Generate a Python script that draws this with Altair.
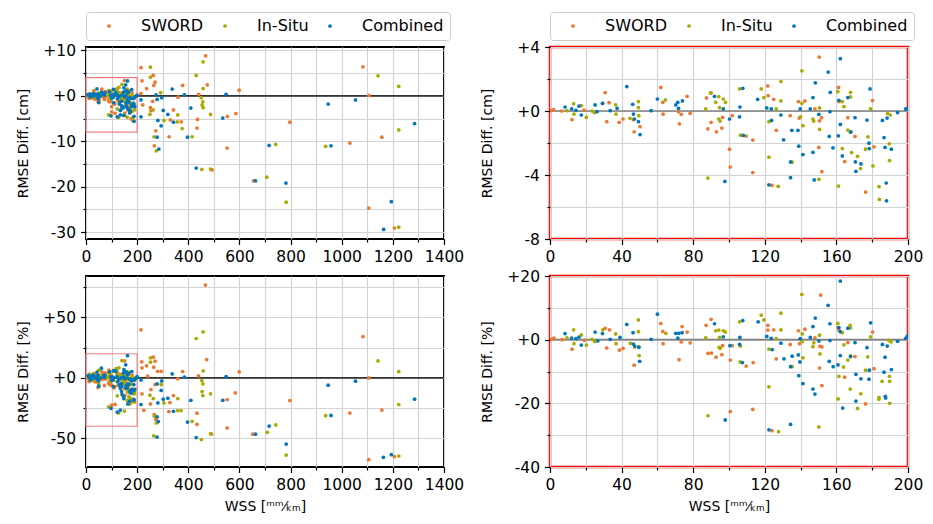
import altair as alt
import numpy as np
import pandas as pd

SERIES = ["SWORD", "In-Situ", "Combined"]
COLORS = ["#EE7733", "#AAAA00", "#0077BB"]

FULL_WSS = [0, 1400]
FULL_CM = [-31.5, 10.75]
FULL_PCT = [-73.7, 84.3]
ZOOM_WSS = [0, 200]
ZOOM_CM = [-8, 4]
ZOOM_PCT = [-40, 20]

# ---- SWORD ----
SWORD_ZOOM_CM = [(1, 0.04), (2, 0.08), (6.5, 0), (12.3, -0.54), (19, 0.06), (30.8, 1.15), (31.7, -0.67), (33, 0.52),
                 (38.6, -0.71), (40.8, -0.5), (47, -1.3), (46.6, -0.54), (50.3, -0.98), (61.9, 1.47), (63, 0.54),
                 (63.2, -0.2), (71.8, -0.04), (72.3, -0.8), (73.3, -0.21), (76.6, 0.92), (78.3, -0.15), (87.4, 0.82),
                 (88.2, -1.11), (90, 1.13), (90, -0.71), (93, -1.3), (96, -1.07), (96.4, -0.4), (100.3, -2.39),
                 (100.7, -3.5), (101.8, -0.29), (109.6, -1.57), (113.3, -1.82), (113.3, -3.85), (121.7, 1.57),
                 (121.9, 0.96), (124, -4.65), (125, 0.73), (126.4, -1.21), (134.2, -0.29), (138.8, 0.59),
                 (139.2, -0.44), (142.4, 0.63), (148, 0.13), (150.4, 3.37), (150.6, -0.61), (150.2, -2.28),
                 (151.7, -0.42), (151.9, -3.79), (161.2, 1.47), (161.4, 0.59), (166.4, -0.42), (164.6, -3.16),
                 (170.4, -1.59), (176.3, -5.07), (180.2, 0.65), (181, -2.24)]
SWORD_ZOOM_PCT = [(1, 0.1), (2.2, 0.5), (6.7, 0), (12.3, -3.0), (19.2, -0.2), (30.8, 3.55), (31.7, -2.6), (33.2, 3.1),
                  (38.8, -3.3), (40.8, -2.7), (47, -8.0), (47.3, -2.3), (61.9, 5.1), (63, 2.6), (63.2, -1.25),
                  (72.1, -6.3), (73.3, -0.7), (73.8, 4.1), (76.6, 2.4), (78.3, -1.0), (87.2, 4.5), (88.3, -4.3),
                  (90, 6.4), (90.2, -4.2), (92.8, -5.5), (96, -4.7), (96.4, -1.9), (100.7, -6.4), (100.7, -22.6),
                  (101.8, -1.9), (109.6, -8.3), (113.5, -7.2), (113.3, -21.9), (121.7, 4.5), (121.7, 3.0),
                  (124, -28.6), (125, 3.1), (126.4, -6.0), (134.2, -1.5), (138.8, 2.8), (139.4, -1.25), (142.4, 3.3),
                  (148, 0.6), (151.2, 14.0), (150.6, -8.9), (150.8, -2.1), (151.9, -2.3), (151.9, -14.4), (161, 3.8),
                  (161.4, 3.0), (164.6, -11.8), (166.4, -0.9), (170.4, -5.3), (176.3, -20.2), (180.2, 2.4),
                  (181, -9.1)]
SWORD_WIDE_CM = [(215, 6.2), (263, 4.5), (219, 3.3), (270, 3.0), (265, 2.3), (237, 1.6), (378, 2.3), (468, 8.8),
                 (474, 2.4), (360, -0.3), (441, 0.35), (261, -1.2), (222, -2.0), (252, -2.6), (254, -3.3),
                 (342, -3.1), (330, -5.3), (372, -5.7), (273, -7.7), (325, -9.0), (267, -11.0), (436, -5.2),
                 (434, -7.1), (553, -4.5), (586, -3.9), (599, 1.25), (552, -11.5), (797, -5.8), (215, 0.5),
                 (655, -18.7), (1032, -10.4), (1083, 6.4), (1106, 0.1), (1106, -24.7), (1157, -9.1), (1206, -29.1),
                 (493, -16.3)]
SWORD_WIDE_PCT = [(467, 76.8), (215, 39.8), (472, 15.2), (378, 5.3), (599, 5.0), (218, 13.3), (219, 8.3), (237, 10),
                  (263, 17.1), (270, 13.8), (265, 8.9), (280, 5.5), (294, 5.5), (241, 1.4), (440, 1.7), (359, -0.8),
                  (254, -9.6), (219, -13.2), (270, -5.5), (342, -14.6), (252, -21.5), (328, -20.4), (324, -27.8),
                  (434, -29.2), (434, -38.4), (552, -17.9), (552, -41.4), (584, -12.4), (797, -18.7), (267, -30.3),
                  (273, -34.5), (652, -46.6), (226, -26.8), (1032, -29.1), (1083, 34.1), (1106, 0), (1106, -67.6),
                  (1157, -26.6), (1206, -65.1), (491, -46.5)]

# ---- In-Situ ----
INSITU_ZOOM_CM = [(9.5, 0.02), (13.2, 0.46), (13.4, -0.19), (17.5, 0.34), (20.3, -0.4), (23.5, 0), (24.8, -0.1),
                  (29.5, 0.48), (36.7, 0.38), (36.9, -0.19), (44.7, -0.46), (49.4, 0.59), (49.4, 0.21), (49.6, -0.29),
                  (64.5, 0.69), (87, 0.13), (88.2, -4.19), (89.7, 1.13), (92.6, 0.54), (94.3, 0.9), (94.3, -0.5),
                  (95, -0.63), (94.7, 0.21), (96.8, 0.75), (98, 0.54), (105.9, 1.38), (106.4, -1.51), (118, 1.38),
                  (119.5, 0.84), (122.3, -0.67), (122.3, -2.89), (126.4, 0.13), (127.5, -4.71), (129, 1.84),
                  (129, 0.63), (135.3, -3.2), (140, -0.36), (140.7, 2.51), (140.7, 0.48), (141.3, -0.92),
                  (146.9, -0.5), (147.3, -0.63), (150.2, -4.27), (150.6, 0.19), (150.6, -1.15), (160.8, 1.21),
                  (161.2, -4.69), (163.3, 0.59), (163.3, -2.35), (164.2, 0.27), (166.4, -1.19), (167.9, 1.17),
                  (167.9, 0.88), (167.8, -1.34), (168.5, -2.6), (171.8, -2.83), (173.5, -3.6), (176.3, -2.39),
                  (177.6, -1.61), (179.1, 0.13), (180.4, -3.43), (183.8, -4.73), (184, -5.53), (188.6, -0.15),
                  (189.5, -2.05), (189.7, -3.1), (190.1, -0.25)]
INSITU_ZOOM_PCT = [(9.5, 0.6), (13.2, 3.1), (13.4, -1.25), (17.5, 1.5), (20.3, -1.7), (23.5, 0.1), (25, -0.6),
                   (29.5, 3.1), (36.7, 1.8), (36.9, -1.25), (44.9, -1.15), (49.4, 6.2), (49.4, 2.5), (49.6, -2.2),
                   (49.8, -5.0), (64.7, 2.0), (87, 0.6), (88.2, -23.9), (92.6, 2.8), (94.3, 3.0), (94.5, -2.4),
                   (95, -2.7), (94.7, 0.7), (96.8, 2.8), (98, 2.4), (105.9, 5.6), (106.4, -2.0), (106.2, -7.0),
                   (118, 7.7), (119.5, 6.2), (122.3, -3.0), (122.3, -14.8), (126.4, 0.3), (127.7, -28.9), (129, 8.3),
                   (129, 3.1), (135.3, -8.5), (140, 0.2), (140.7, 14.2), (140.9, 1.8), (141.3, -5.7), (140.9, -0.6),
                   (146.9, -2.2), (147.4, -1.0), (150.2, -27.4), (150.6, 1.4), (150.8, -4.5), (160.8, 5.1),
                   (161, -18.6), (161.4, -11.5), (163.3, 2.2), (164, -8.6), (164.2, -1.6), (166.4, -6.4),
                   (167.7, 4.5), (167.9, 3.7), (167.9, -5.1), (167.7, -15.5), (171.8, -21.6), (173.6, -17.0),
                   (176.3, -9.6), (177.5, -5.4), (179.1, 0.9), (183.8, -18.1), (183.8, -18.7), (185.5, -13.1),
                   (189.2, -0.2), (189.6, -11.5), (189.8, -13.1), (189.8, -20.0), (190.5, -0.7)]
INSITU_WIDE_CM = [(252, 6.3), (252, 4.1), (431, 4.5), (458, 7.5), (458, 1.6), (451, -0.4), (457, -1.3), (454, -2.0),
                  (458, -2.6), (292, 0.7), (263, -3.1), (250, -4.1), (359, -4.2), (305, -5.4), (357, -5.7),
                  (376, -7.2), (266, -9.0), (275, -12.1), (415, -9.0), (487, -4.1), (742, -10.7), (707, -17.9),
                  (783, -23.4), (937, -11.1), (1142, 4.4), (1223, 2.1), (1223, -7.5), (1223, -28.9), (453, -16.2),
                  (487, -16.1)]
INSITU_WIDE_PCT = [(458, 38.1), (431, 32.6), (458, 5.8), (252, 16.6), (252, 13), (453, -2.2), (457, -5),
                   (454, -11.3), (457, -14.6), (487, -13.2), (294, -5.5), (250, -14.3), (263, -17.1), (359, -17.1),
                   (359, -27), (372, -27), (305, -20.7), (267, -31.7), (275, -37.3), (415, -35.9), (265, -48),
                   (487, -46.1), (451, -51), (742, -38.9), (709, -45), (783, -63.8), (937, -31.3), (1142, 14),
                   (1223, 5.2), (1223, -22), (1223, -64.6)]

# ---- Combined ----
COMB_ZOOM_CM = [(8.4, 0.25), (12.1, 0.13), (14.5, 0.04), (16.2, 0.31), (17.5, -0.25), (25.2, 0.38), (26.3, -0.04),
                (29.3, 0.48), (33.6, 0.02), (37.5, 0.17), (42.9, 1.53), (46.2, 0.42), (46.6, -0.19), (47.2, -0.5),
                (49.4, -0.67), (50.3, -1.47), (56.5, 0.02), (60, 0.75), (70.3, 0.38), (71.4, 0.54), (71.8, 0.17),
                (74, 0.63), (91.9, 0.92), (96.8, 0.13), (97.7, -4.4), (100.3, -0.5), (105.9, -0.36), (106.1, 0.25),
                (107.7, 1.42), (108, -1.53), (116, 0.73), (121.1, 0.19), (122.3, -4.61), (123.6, 0.13),
                (123.8, -0.59), (129, -0.25), (130.5, -1.8), (134.4, -3.18), (134.4, -4.17), (135.1, -1.21),
                (138.5, -1.21), (139, -2.2), (139.8, 0.13), (141.3, -2.72), (145.4, 0.13), (146.9, 0.84),
                (146.9, -2.58), (148.2, 1.76), (147.6, -4.31), (150.2, -0.21), (155.4, 2.43), (156, -1.59),
                (156.6, 1.17), (156.4, -0.04), (158.1, -2.3), (161.1, -1.55), (161.4, 0.67), (162.2, 3.27),
                (162.2, -0.84), (163.3, -2.81), (166.4, 0.84), (168.1, -1.3), (170.4, -0.42), (170.6, -3.18),
                (170.9, -3.77), (173.7, -3.31), (177.1, -0.57), (178.2, -2.01), (178.8, 1.38), (178.4, -2.35),
                (185.7, -0.59), (186.6, -1.66), (187.2, -2.28), (187.8, -4.5), (188, -5.61), (188.3, -0.44),
                (190.7, -2.39), (194.2, -0.1), (198.7, 0.13), (199.6, 0.13)]
COMB_ZOOM_PCT = [(8.4, 1.9), (12.1, 0.5), (14.5, 0.3), (16.2, 0.8), (17.5, -1.7), (25.2, 2.4), (26.7, -0.4),
                 (29.3, 1.9), (33.6, 0.1), (39.1, 0.7), (42.9, 4.8), (46.4, 2.2), (46.6, -1.4), (47.3, -2.0),
                 (49.6, -2.4), (50.1, -6.8), (56.5, 0.1), (60, 8.0), (70.3, 2.0), (71.4, 0.5), (72, 2.0), (73.8, 2.2),
                 (91.9, 5.0), (96.8, 0.9), (97.9, -25.2), (100.5, -1.9), (105.9, -1.5), (106.1, 0.7), (107.7, 6.0),
                 (107.5, -7.2), (116.3, 5.6), (121.1, 1.0), (122.3, -28.3), (123.6, 0.4), (124.1, -3.1),
                 (129, -1.1), (130.7, -6.0), (134.4, -8.5), (134.4, -26.6), (135.3, -5.2), (138.7, -4.8),
                 (139, -11.3), (139.6, -7.0), (139.8, 0.3), (141.3, -13.8), (145.4, 0.7), (146.9, 4.1),
                 (146.9, -15.5), (148, -17.1), (148.2, 6.8), (150.2, -0.4), (155.4, 10.8), (156, -6.8), (156.4, 5.0),
                 (156.4, -0.3), (158.2, -8.5), (160.9, -7.9), (161.4, 3.8), (162.2, 18.4), (162.2, -5.0),
                 (162.2, 2.5), (163.5, -21.5), (166.4, 3.6), (167.9, -5.3), (170.4, -0.9), (170.9, -10.9),
                 (170.9, -19.3), (173.7, -12.3), (177.1, -2.5), (178.2, -12.4), (179.1, 5.3), (178.4, -9.6),
                 (185.7, -1.5), (186.6, -10.2), (187.2, -5.5), (187.3, -17.8), (187.5, -18.3), (188.4, -2.0),
                 (190.7, -9.4), (194.2, -0.5), (198.7, 0.4), (199.6, 1.1)]
COMB_WIDE_CM = [(337, 1.5), (385, 0.2), (548, 0.35), (278, -0.8), (296, -0.4), (274, 0.2), (302, -3.2), (320, -4.1),
                (342, -5.8), (281, -5.4), (294, -6.6), (278, -9.1), (285, -11.7), (410, -2.7), (397, -9.1),
                (535, -4.9), (716, -10.9), (215, -0.9), (215, -4.6), (431, -15.9), (663, -18.7), (782, -19.2),
                (947, -1.8), (958, -11.0), (1054, -0.9), (1164, -29.4), (1194, -23.3), (1285, -6.1)]
COMB_WIDE_PCT = [(337, 3.3), (385, 0.6), (548, 1.1), (296, -2.5), (278, -5), (294, -10.4), (302, -17.6),
                 (320, -16.8), (342, -27.6), (281, -20.7), (278, -32.3), (283, -36.1), (278, -48.9), (410, -18.5),
                 (397, -36.5), (535, -18.5), (716, -39.8), (431, -49.4), (663, -46.6), (783, -54.7), (215, -1.8),
                 (215, -22), (947, -6), (958, -31), (1054, -2.7), (1163, -65.7), (1194, -63.5), (1285, -17.6)]


def frame(groups):
    rows = []
    for name, pairs in groups:
        for x, y in pairs:
            rows.append({"series": name, "wss": x, "diff": y})
    return pd.DataFrame(rows)


zoom_cm = frame([("SWORD", SWORD_ZOOM_CM), ("In-Situ", INSITU_ZOOM_CM), ("Combined", COMB_ZOOM_CM)])
zoom_pct = frame([("SWORD", SWORD_ZOOM_PCT), ("In-Situ", INSITU_ZOOM_PCT), ("Combined", COMB_ZOOM_PCT)])
full_cm = frame([("SWORD", SWORD_ZOOM_CM + SWORD_WIDE_CM), ("In-Situ", INSITU_ZOOM_CM + INSITU_WIDE_CM),
                 ("Combined", COMB_ZOOM_CM + COMB_WIDE_CM)])
full_pct = frame([("SWORD", SWORD_ZOOM_PCT + SWORD_WIDE_PCT), ("In-Situ", INSITU_ZOOM_PCT + INSITU_WIDE_PCT),
                  ("Combined", COMB_ZOOM_PCT + COMB_WIDE_PCT)])

FONT = "DejaVu Sans"
X_TITLE = "WSS [ᵐᵐ⁄ₖₘ]"


def ticks(dom, step):
    start = np.ceil(dom[0] / step) * step
    return [float(v) for v in np.arange(start, dom[1] + 1e-9, step)]


def sign_expr(major):
    return (f"datum.value % {major} == 0 ? (datum.value > 0 ? '+' + datum.value : "
            f"(datum.value == 0 ? '+0' : '-' + abs(datum.value))) : ''")


def axis_common(major):
    return dict(
        domain=False,
        tickColor="black",
        tickWidth=1.2,
        tickSize={"condition": {"test": f"datum.value % {major} != 0", "value": 3}, "value": 5.5},
        labelFontSize=15.5,
        labelFont=FONT,
        labelColor="black",
        labelPadding=5,
        labelOverlap=False,
        labelFlush=False,
        gridColor="#d3d3d3",
        gridWidth=1.2,
        titleFont=FONT,
        titleFontSize=14,
        titleFontWeight="normal",
        titleColor="black",
    )


def panel(df, xdom, xminor, xmajor, ydom, yminor, ymajor, ytitle, xtitle, legend, zero_color, border,
          border_width, box=None, ytitle_pad=12, height=192):
    xscale = alt.Scale(domain=xdom, nice=False, zero=False)
    yscale = alt.Scale(domain=ydom, nice=False, zero=False)
    xaxis_kw = axis_common(xmajor)
    xaxis_kw.update(values=ticks(xdom, xminor), format="d",
                    labelExpr=f"datum.value % {xmajor} == 0 ? datum.label : ''",
                    titlePadding=6, title=xtitle)
    yaxis_kw = axis_common(ymajor)
    yaxis_kw.update(values=ticks(ydom, yminor), labelExpr=sign_expr(ymajor), title=ytitle,
                    titlePadding=ytitle_pad)
    xaxis = alt.Axis(**xaxis_kw)
    yaxis = alt.Axis(**yaxis_kw)

    color_kw = dict(scale=alt.Scale(domain=SERIES, range=COLORS), sort=SERIES)
    if legend:
        color_kw["legend"] = alt.Legend(
            title=None, orient="none", legendX=0, legendY=-35, direction="horizontal", columns=3,
            padding=6, symbolOffset=9, labelOffset=24, columnPadding=4,
            fillColor="white", strokeColor="#cccccc", cornerRadius=3,
            labelFontSize=16, labelFont=FONT, labelColor="black",
            symbolType="circle", symbolSize=14, symbolStrokeWidth=0,
        )
    else:
        color_kw["legend"] = None

    zero = alt.Chart(pd.DataFrame({"y": [0]})).mark_rule(color=zero_color, strokeWidth=1.6).encode(
        y=alt.Y("y:Q", scale=yscale, axis=yaxis)
    )
    pts = alt.Chart(df).mark_circle(size=14, opacity=1, clip=True).encode(
        x=alt.X("wss:Q", scale=xscale, axis=xaxis),
        y=alt.Y("diff:Q", scale=yscale, axis=yaxis),
        color=alt.Color("series:N", **color_kw),
    )
    layers = [zero]
    if box is not None:
        bx, by = box
        rect_df = pd.DataFrame({"x": [bx[0]], "x2": [bx[1]], "y": [by[0]], "y2": [by[1]]})
        rect = alt.Chart(rect_df).mark_rect(fillOpacity=0, stroke="#f08080", strokeWidth=1.2).encode(
            x=alt.X("x:Q", scale=xscale, axis=xaxis), x2="x2:Q",
            y=alt.Y("y:Q", scale=yscale, axis=yaxis), y2="y2:Q",
        )
        layers.append(rect)
    layers.append(pts)
    return alt.layer(*layers).properties(
        width=358, height=height,
        view=alt.ViewBackground(stroke=border, strokeWidth=border_width),
    )


tl = panel(full_cm, FULL_WSS, 100, 200, FULL_CM, 5, 10, "RMSE Diff. [cm]", None, True, "#333333", "black", 2,
           box=(ZOOM_WSS, ZOOM_CM))
tr = panel(zoom_cm, ZOOM_WSS, 20, 40, ZOOM_CM, 2, 4, "RMSE Diff. [cm]", None, True, "#808080", "red", 2.5,
           ytitle_pad=22)
bl = panel(full_pct, FULL_WSS, 100, 200, FULL_PCT, 25, 50, "RMSE Diff. [%]", X_TITLE, False, "#333333", "black", 2,
           box=(ZOOM_WSS, ZOOM_PCT), height=191)
br = panel(zoom_pct, ZOOM_WSS, 20, 40, ZOOM_PCT, 10, 20, "RMSE Diff. [%]", X_TITLE, False, "#808080", "red", 2.5,
           height=191)

chart = alt.concat(tl, tr, bl, br, columns=2, spacing={"row": 0, "column": 14}).resolve_legend(
    color="independent"
).properties(
    padding={"left": 15, "top": 10, "right": 5, "bottom": 5},
    background="white",
).configure(font=FONT)

chart.save("out.html", embed_options={"renderer": "svg", "actions": False})
